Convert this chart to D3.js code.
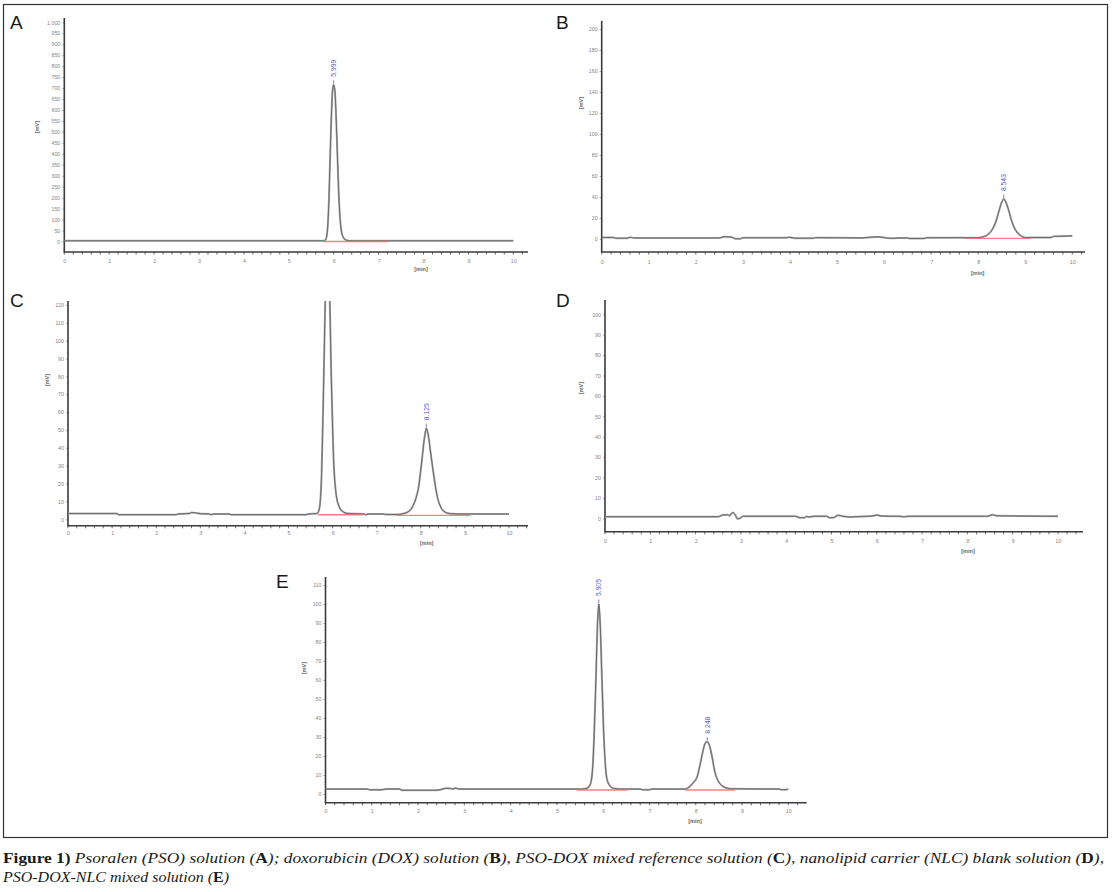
<!DOCTYPE html>
<html>
<head>
<meta charset="utf-8">
<script src="https://cdn.jsdelivr.net/npm/d3@7"></script>
<style>
  body { margin: 0; background: #fff; }
  svg { display: block; }
</style>
</head>
<body>
<div id="fig"></div>
<script>
const W = 1114;
const H = 892;

// x axis is the same for every run: 0..10 min
const minuteTicks = [0, 1, 2, 3, 4, 5, 6, 7, 8, 9, 10];

// y tick labels of each chromatogram [mV]
const yTicksA = [0, 50, 100, 150, 200, 250, 300, 350, 400, 450, 500, 550, 600, 650, 700, 750, 800, 850, 900, 950, 1000];
const yTicksB = [0, 20, 40, 60, 80, 100, 120, 140, 160, 180, 200];
const yTicksC = [0, 10, 20, 30, 40, 50, 60, 70, 80, 90, 100, 110, 120];
const yTicksD = [0, 10, 20, 30, 40, 50, 60, 70, 80, 90, 100];
const yTicksE = [0, 10, 20, 30, 40, 50, 60, 70, 80, 90, 100, 110];

// traces: [time (min), signal (mV)]
const traceA = [
  [0, 3], [5.78, 3], [5.82, 8], [5.86, 50], [5.89, 170], [5.92, 380], [5.95, 580], [5.975, 690],
  [5.999, 715], [6.025, 690], [6.05, 590], [6.08, 410], [6.11, 230], [6.14, 110], [6.17, 50],
  [6.21, 20], [6.26, 8], [6.33, 4], [6.42, 3], [10, 3]
];
const traceB = [
  [0, 1.5], [0.25, 1.5], [0.3, 0.8], [0.55, 0.8], [0.6, 1.6], [0.7, 1.0], [2.5, 1.0], [2.6, 2.2],
  [2.75, 1.8], [2.85, 0.2], [2.95, 0.2], [3.0, 1.2], [3.9, 1.2], [4.0, 1.6], [4.1, 0.8], [4.5, 0.8],
  [4.55, 1.3], [5.5, 1.0], [5.8, 2.0], [5.9, 2.0], [6.05, 1.0], [6.2, 0.6], [6.3, 1.0], [6.5, 1.0],
  [6.55, 0.5], [6.85, 0.5], [6.9, 1.2], [8.0, 1.3], [8.1, 2], [8.2, 4], [8.3, 9], [8.38, 17],
  [8.45, 28], [8.5, 35], [8.543, 38], [8.59, 35], [8.65, 27], [8.72, 16], [8.8, 8], [8.88, 4],
  [8.95, 2], [9.0, 1.4], [9.55, 1.4], [9.6, 2.5], [9.9, 2.8], [10, 3]
];
const traceC = [
  [0, 3.2], [1.1, 3.2], [1.15, 2.6], [2.45, 2.6], [2.5, 3.0], [2.75, 3.2], [2.8, 3.8], [2.9, 3.6],
  [3.0, 3.1], [3.2, 3.0], [3.25, 2.6], [3.3, 3.0], [3.65, 3.0], [3.7, 2.6], [3.8, 2.6], [5.4, 2.6],
  [5.45, 3.0], [5.65, 3.3], [5.70, 6], [5.75, 25], [5.80, 80], [5.85, 140], [5.885, 152], [5.92, 140],
  [5.97, 80], [6.02, 35], [6.08, 14], [6.15, 7], [6.25, 4], [6.35, 3.2], [6.7, 3.0], [6.75, 2.6],
  [6.8, 3.0], [7.15, 3.0], [7.2, 2.7], [7.5, 2.7], [7.6, 3.2], [7.7, 4], [7.8, 6.5], [7.88, 11],
  [7.95, 18], [8.02, 32], [8.08, 45], [8.125, 51], [8.17, 47], [8.23, 36], [8.31, 22], [8.38, 12],
  [8.46, 6.5], [8.55, 4], [8.65, 3.2], [8.8, 3.0], [10, 3.0]
];
const traceD = [
  [0, 0.8], [2.5, 0.8], [2.6, 1.6], [2.7, 1.7], [2.75, 1.3], [2.82, 2.8], [2.88, 1.5], [2.92, -0.2],
  [2.98, 0], [3.05, 1.0], [4.2, 1.0], [4.3, 0.3], [4.4, 0.3], [4.45, 0.9], [4.5, 0.6], [4.6, 1.0],
  [4.9, 1.0], [4.95, 0.3], [5.05, 0.4], [5.15, 1.5], [5.25, 1.0], [5.4, 0.6], [5.55, 0.8], [5.9, 1.1],
  [6.0, 1.6], [6.1, 1.1], [6.5, 1.0], [6.6, 0.7], [6.7, 1.0], [8.45, 1.0], [8.55, 1.8], [8.65, 1.2],
  [10, 1.0]
];
const traceE = [
  [0, 2.6], [0.9, 2.6], [0.95, 2.2], [1.2, 2.2], [1.3, 2.6], [1.6, 2.6], [1.65, 2.0], [2.4, 2.0],
  [2.5, 2.4], [2.6, 3.0], [2.7, 2.9], [2.75, 2.6], [2.8, 3.1], [2.9, 2.6], [5.55, 2.6], [5.65, 3],
  [5.72, 5], [5.77, 13], [5.80, 28], [5.84, 58], [5.875, 88], [5.905, 100], [5.935, 90], [5.97, 63],
  [6.005, 36], [6.04, 18], [6.08, 8], [6.14, 4.5], [6.22, 3], [6.35, 2.6], [6.8, 2.6], [6.85, 2.2],
  [7.0, 2.2], [7.05, 2.6], [7.75, 2.6], [7.85, 3.5], [7.93, 5.5], [8.03, 9], [8.09, 15], [8.15, 22],
  [8.2, 26.5], [8.248, 27.5], [8.29, 26], [8.35, 20], [8.41, 12], [8.48, 7], [8.56, 4.5], [8.66, 3.2],
  [8.8, 2.7], [9.8, 2.6], [9.85, 2.3], [9.95, 2.3], [10, 2.6]
];

// labelled peaks: retention time, apex height, label
const peaksA = [{ t: 5.999, v: 715, label: '5.999' }];
const peaksB = [{ t: 8.543, v: 38, label: '8.543' }];
const peaksC = [{ t: 8.125, v: 51, label: '8.125' }];
const peaksD = [];
const peaksE = [{ t: 5.905, v: 100, label: '5.905' }, { t: 8.248, v: 27.5, label: '8.248' }];

// integration baselines (red): [start, end, level]
const integA = [[5.77, 7.2, 2]];
const integB = [[7.73, 9.12, 1]];
const integC = [[5.67, 6.69, 2.8], [7.45, 9.12, 2.4]];
const integD = [];
const integE = [[5.43, 6.54, 2.3], [7.77, 8.85, 2.3]];

const captionLine1 = [
  ['Figure 1)', 'b'], [' Psoralen (PSO) solution (', 'i'], ['A', 'b'], ['); doxorubicin (DOX) solution (', 'i'], ['B', 'b'],
  ['), PSO-DOX mixed reference solution (', 'i'], ['C', 'b'], ['), nanolipid carrier (NLC) blank solution (', 'i'],
  ['D', 'b'], ['),', 'i']
];
const captionLine2 = [['PSO-DOX-NLC mixed solution (', 'i'], ['E', 'b'], [')', 'i']];

// where each run sits on the page
const layout = [
  { key: 'A', trace: traceA, yTicks: yTicksA, peaks: peaksA, integ: integA, fmt: d3.format(','),
    x0: 64.3, x10: 513.3, yZero: 241.5, yTop: 22.3, axisTop: 18, axisY: 252, axisRight: 528,
    letter: [10, 29], mv: [38, 127], min: [421, 270], xLab: 7.5 },
  { key: 'B', trace: traceB, yTicks: yTicksB, peaks: peaksB, integ: integB, fmt: d3.format('d'),
    x0: 601.7, x10: 1072.3, yZero: 239, yTop: 29, axisTop: 21, axisY: 252, axisRight: 1085,
    letter: [556, 29], mv: [581.7, 103], min: [977.7, 274], xLab: 8 },
  { key: 'C', trace: traceC, yTicks: yTicksC, peaks: peaksC, integ: integC, fmt: d3.format('d'),
    x0: 68, x10: 509, yZero: 519.3, yTop: 305, axisTop: 301, axisY: 525.7, axisRight: 528,
    letter: [10, 307], mv: [48, 380], min: [426.7, 543.5], xLab: 5.8 },
  { key: 'D', trace: traceD, yTicks: yTicksD, peaks: peaksD, integ: integD, fmt: d3.format('d'),
    x0: 605, x10: 1058, yZero: 518.3, yTop: 314.3, axisTop: 300, axisY: 531.7, axisRight: 1083,
    letter: [556, 307], mv: [581.7, 388], min: [968, 552], xLab: 8 },
  { key: 'E', trace: traceE, yTicks: yTicksE, peaks: peaksE, integ: integE, fmt: d3.format('d'),
    x0: 325.5, x10: 788.3, yZero: 794, yTop: 585, axisTop: 577, axisY: 802.7, axisRight: 806.7,
    letter: [276, 588], mv: [305, 668], min: [695, 822], xLab: 7 }
];

const svg = d3.select('#fig')
  .append('svg')
  .attr('width', W)
  .attr('height', H)
  .style('font-family', '"Liberation Sans", Arial, sans-serif');

svg.append('rect')
  .attr('width', W).attr('height', H)
  .attr('fill', '#fff');

// frame round all five runs
svg.append('rect')
  .attr('x', 3.5).attr('y', 4.5)
  .attr('width', 1104).attr('height', 833)
  .attr('fill', 'none')
  .attr('stroke', '#333')
  .attr('stroke-width', 1.2);

const tickColor = '#878287';

layout.forEach((p) => {
  const yMax = p.yTicks[p.yTicks.length - 1];
  const x = d3.scaleLinear().domain([0, 10]).range([p.x0, p.x10]);
  const y = d3.scaleLinear().domain([0, yMax]).range([p.yZero, p.yTop]);

  const g = svg.append('g').attr('class', 'panel-' + p.key);

  // clip so the off-scale peak in C is cut at the top of the axis
  const clipId = 'clip-' + p.key;
  svg.append('clipPath').attr('id', clipId)
    .append('rect')
    .attr('x', x(0)).attr('y', p.axisTop)
    .attr('width', p.axisRight - x(0)).attr('height', p.axisY - p.axisTop);

  // y axis
  const yAxis = g.append('g')
    .attr('transform', `translate(${x(0)},0)`)
    .call(d3.axisLeft(y).tickValues(p.yTicks).tickFormat(p.fmt).tickSize(2).tickPadding(2));
  yAxis.select('.domain').remove();
  yAxis.selectAll('.tick line').attr('stroke', '#777').attr('stroke-width', 0.6);
  yAxis.selectAll('.tick text').attr('font-size', 5.3).attr('fill', tickColor);

  // x axis labels
  const xAxis = g.append('g')
    .attr('transform', `translate(0,${p.axisY})`)
    .call(d3.axisBottom(x).tickValues(minuteTicks).tickSize(0).tickPadding(p.xLab));
  xAxis.select('.domain').remove();
  xAxis.selectAll('.tick text').attr('font-size', 5.3).attr('fill', tickColor);

  // minor ticks every 0.2 min along the x axis
  const minor = d3.range(0, x.invert(p.axisRight), 0.2);
  g.append('g')
    .selectAll('line')
    .data(minor)
    .join('line')
    .attr('x1', d => x(d)).attr('x2', d => x(d))
    .attr('y1', p.axisY).attr('y2', p.axisY + 2.6)
    .attr('stroke', '#444')
    .attr('stroke-width', 0.8);

  // axis lines
  g.append('line')
    .attr('x1', x(0)).attr('x2', x(0))
    .attr('y1', p.axisTop).attr('y2', p.axisY)
    .attr('stroke', '#3a3a3a').attr('stroke-width', 1.6);
  g.append('line')
    .attr('x1', x(0) - 0.8).attr('x2', p.axisRight)
    .attr('y1', p.axisY).attr('y2', p.axisY)
    .attr('stroke', '#3a3a3a').attr('stroke-width', 1.6);

  // axis titles
  g.append('text')
    .attr('transform', `translate(${p.mv[0]},${p.mv[1]}) rotate(-90)`)
    .attr('text-anchor', 'middle')
    .attr('dominant-baseline', 'middle')
    .attr('font-size', 5.5)
    .attr('font-weight', 'bold')
    .attr('fill', '#666')
    .text('[mV]');
  g.append('text')
    .attr('x', p.min[0]).attr('y', p.min[1])
    .attr('text-anchor', 'middle')
    .attr('dominant-baseline', 'middle')
    .attr('font-size', 5.5)
    .attr('font-weight', 'bold')
    .attr('fill', '#666')
    .text('[min]');

  // panel letter
  g.append('text')
    .attr('x', p.letter[0]).attr('y', p.letter[1])
    .attr('font-size', 19)
    .attr('fill', '#1a1a1a')
    .text(p.key);

  const plot = g.append('g').attr('clip-path', `url(#${clipId})`);

  // chromatogram
  const line = d3.line()
    .x(d => x(d[0]))
    .y(d => y(d[1]))
    .curve(d3.curveMonotoneX);

  plot.append('path')
    .datum(p.trace)
    .attr('d', line)
    .attr('fill', 'none')
    .attr('stroke', '#aaa')
    .attr('stroke-width', 2)
    .attr('stroke-linejoin', 'round');
  plot.append('path')
    .datum(p.trace)
    .attr('d', line)
    .attr('fill', 'none')
    .attr('stroke', '#626262')
    .attr('stroke-width', 0.9)
    .attr('stroke-linejoin', 'round');

  // integration baselines, drawn over the trace
  plot.selectAll('.integ')
    .data(p.integ)
    .join('line')
    .attr('class', 'integ')
    .attr('x1', d => x(d[0])).attr('x2', d => x(d[1]))
    .attr('y1', d => y(d[2]) + 0.4).attr('y2', d => y(d[2]) + 0.4)
    .attr('stroke', '#f26d70')
    .attr('stroke-width', 1.4)
    .attr('opacity', 0.85);

  // peak markers and retention time labels
  g.selectAll('.pk')
    .data(p.peaks)
    .join('line')
    .attr('class', 'pk')
    .attr('x1', d => x(d.t)).attr('x2', d => x(d.t))
    .attr('y1', d => y(d.v) - 1).attr('y2', d => y(d.v) - 4.5)
    .attr('stroke', '#5a5acc')
    .attr('stroke-width', 0.8);
  g.selectAll('.pklabel')
    .data(p.peaks)
    .join('text')
    .attr('class', 'pklabel')
    .attr('transform', d => `translate(${x(d.t) + 2.3},${y(d.v) - 8}) rotate(-90)`)
    .attr('font-size', 6.8)
    .attr('fill', '#5a5acc')
    .text(d => d.label);
});

// caption under the frame
function caption(parts, yPos, len) {
  const t = svg.append('text')
    .attr('x', 3)
    .attr('y', yPos)
    .attr('font-family', '"Liberation Serif", "Times New Roman", serif')
    .attr('font-size', 15.5)
    .attr('fill', '#1a1a1a')
    .attr('textLength', len)
    .attr('lengthAdjust', 'spacingAndGlyphs');
  t.selectAll('tspan')
    .data(parts)
    .join('tspan')
    .attr('font-style', d => d[1] === 'i' ? 'italic' : 'normal')
    .attr('font-weight', d => d[1] === 'b' ? 'bold' : 'normal')
    .text(d => d[0]);
}
caption(captionLine1, 863, 1101);
caption(captionLine2, 882, 226);
</script>
</body>
</html>
